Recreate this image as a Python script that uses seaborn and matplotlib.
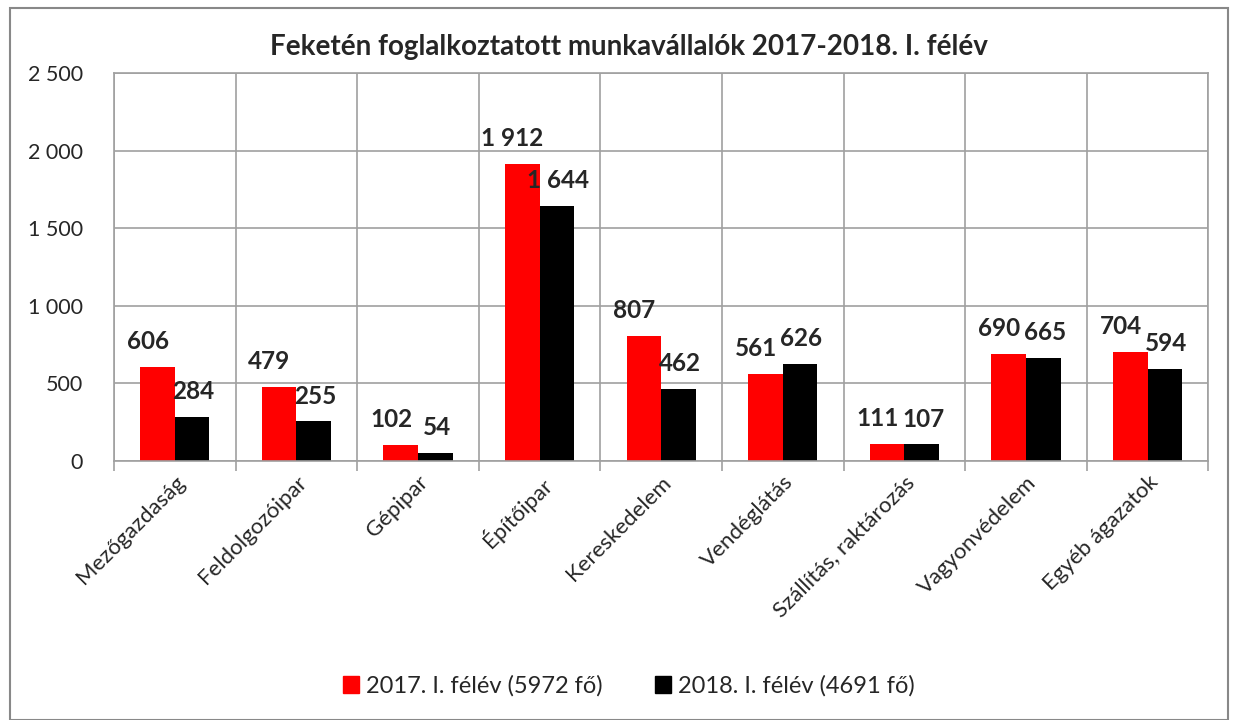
import matplotlib
matplotlib.use("Agg")
import matplotlib.pyplot as plt
import seaborn as sns
import pandas as pd
from matplotlib.patches import Rectangle
from matplotlib.ticker import FuncFormatter, MultipleLocator

# data
categories = ["Mezőgazdaság", "Feldolgozóipar", "Gépipar", "Építőipar", "Kereskedelem",
              "Vendéglátás", "Szállítás, raktározás", "Vagyonvédelem", "Egyéb ágazatok"]
series_names = ["2017. I. félév (5972 fő)", "2018. I. félév (4691 fő)"]
values_2017 = [606, 479, 102, 1912, 807, 561, 111, 690, 704]
values_2018 = [284, 255, 54, 1644, 462, 626, 107, 665, 594]
colors = ["#ff0000", "#000000"]
title = "Feketén foglalkoztatott munkavállalók 2017-2018. I. félév"

df = pd.DataFrame({
    "ag": categories * 2,
    "sorozat": [series_names[0]] * len(categories) + [series_names[1]] * len(categories),
    "fo": values_2017 + values_2018,
})

sns.set_theme(style="white")
plt.rcParams["font.family"] = ["Lato", "DejaVu Sans"]

fig = plt.figure(figsize=(12.33, 7.2), dpi=100)
ax = fig.add_axes([0.0925, 0.3597, 0.8875, 0.5389])

sns.barplot(data=df, x="ag", y="fo", hue="sorozat", palette=colors,
            width=0.57, saturation=1, linewidth=0, edgecolor="none", ax=ax, legend=False)

grid_c = "#a0a0a0"
ax.set_ylim(0, 2500)
ax.set_xlim(-0.5, len(categories) - 0.5)
ax.yaxis.set_major_locator(MultipleLocator(500))
ax.yaxis.set_major_formatter(FuncFormatter(lambda v, p: f"{int(v):,}".replace(",", " ")))
ax.set_xticks([i - 0.5 for i in range(len(categories) + 1)], minor=True)
ax.grid(True, axis="y", color=grid_c, lw=1.2)
ax.grid(True, axis="x", which="minor", color=grid_c, lw=1.2)
ax.set_axisbelow(True)
for s in ax.spines.values():
    s.set_color(grid_c)
    s.set_linewidth(1.2)

ax.tick_params(axis="y", which="major", length=6.5, width=1.2, color=grid_c, labelsize=15.5, pad=16)
ax.tick_params(axis="x", which="major", length=0, labelsize=16, pad=8)
ax.tick_params(axis="x", which="minor", length=7, width=1.2, color=grid_c, bottom=True)
ax.set_xticks(range(len(categories)))
ax.set_xticklabels(categories, rotation=45, ha="right", rotation_mode="anchor")
ax.set_xlabel("")
ax.set_ylabel("")

# value labels, Excel style
for k, cont in enumerate(ax.containers):
    dx = -7 if k == 0 else 1
    for bar in cont:
        h = bar.get_height()
        ax.annotate(f"{int(h):,}".replace(",", " "),
                    (bar.get_x() + bar.get_width() / 2, h),
                    xytext=(dx, 10), textcoords="offset points",
                    ha="center", va="bottom", fontsize=17.5, fontweight="bold")

fig.text(0.51, 0.935, title, ha="center", va="center", fontsize=20, fontweight="bold")

handles = [Rectangle((0, 0), 1, 1, color=c) for c in colors]
fig.legend(handles, series_names, loc="center", bbox_to_anchor=(0.51, 0.047), ncol=2,
           frameon=False, fontsize=17, handlelength=0.7, handleheight=0.7,
           handletextpad=0.3, columnspacing=2.2)

fig.patches.append(Rectangle((10 / 1233, 0), 1218 / 1233, 1 - 8 / 720, transform=fig.transFigure,
                             fill=False, edgecolor="#888888", lw=1.5))

fig.savefig("out.png", dpi=100)
